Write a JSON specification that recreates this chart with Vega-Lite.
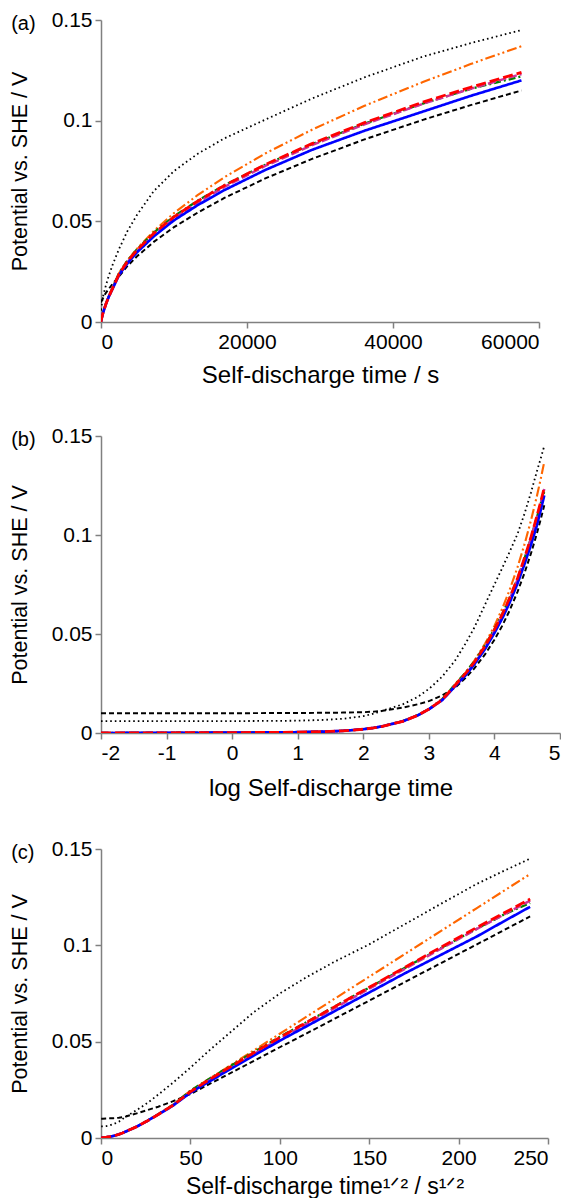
{
  "$schema": "https://vega.github.io/schema/vega-lite/v6.json",
  "background": "white",
  "padding": {"left": 9, "top": 9, "right": 0, "bottom": 0},
  "spacing": 38,
  "config": {
    "font": "Liberation Sans",
    "view": {"stroke": null},
    "axis": {
      "grid": false,
      "domainColor": "#808080",
      "domainWidth": 1.5,
      "tickColor": "#808080",
      "tickWidth": 1.5,
      "tickSize": 6,
      "labelFont": "Liberation Sans",
      "labelFontSize": 21,
      "labelColor": "#000000",
      "labelPadding": 3,
      "titleFont": "Liberation Sans",
      "titleFontSize": 24,
      "titleFontWeight": "normal",
      "titleColor": "#000000"
    },
    "axisY": {"titleFontSize": 21.5, "titlePadding": 20},
    "title": {"font": "Liberation Sans", "fontSize": 20, "fontWeight": "normal", "color": "#000000", "anchor": "start", "frame": "bounds", "baseline": "top", "offset": 0, "dy": 29, "dx": 2}
  },
  "datasets": {
    "d": [
      {"series": "dotted", "t": 0.01, "V": 0.006},
      {"series": "dotted", "t": 0.1, "V": 0.006},
      {"series": "dotted", "t": 1, "V": 0.006},
      {"series": "dotted", "t": 9, "V": 0.0062},
      {"series": "dotted", "t": 25, "V": 0.0066},
      {"series": "dotted", "t": 49, "V": 0.0072},
      {"series": "dotted", "t": 100, "V": 0.0085},
      {"series": "dotted", "t": 144, "V": 0.0098},
      {"series": "dotted", "t": 196, "V": 0.0112},
      {"series": "dotted", "t": 400, "V": 0.0145},
      {"series": "dotted", "t": 676, "V": 0.0182},
      {"series": "dotted", "t": 1024, "V": 0.0225},
      {"series": "dotted", "t": 1600, "V": 0.0285},
      {"series": "dotted", "t": 2500, "V": 0.0365},
      {"series": "dotted", "t": 3600, "V": 0.045},
      {"series": "dotted", "t": 4900, "V": 0.053},
      {"series": "dotted", "t": 7225, "V": 0.065},
      {"series": "dotted", "t": 10000, "V": 0.075},
      {"series": "dotted", "t": 13225, "V": 0.0835},
      {"series": "dotted", "t": 16900, "V": 0.0912},
      {"series": "dotted", "t": 22500, "V": 0.1005},
      {"series": "dotted", "t": 28900, "V": 0.111},
      {"series": "dotted", "t": 36100, "V": 0.1215},
      {"series": "dotted", "t": 44100, "V": 0.1318},
      {"series": "dotted", "t": 50625, "V": 0.1385},
      {"series": "dotted", "t": 57600, "V": 0.145},

      {"series": "dashed", "t": 0.01, "V": 0.01},
      {"series": "dashed", "t": 0.1, "V": 0.01},
      {"series": "dashed", "t": 1, "V": 0.01},
      {"series": "dashed", "t": 9, "V": 0.0101},
      {"series": "dashed", "t": 25, "V": 0.0102},
      {"series": "dashed", "t": 49, "V": 0.0103},
      {"series": "dashed", "t": 100, "V": 0.0105},
      {"series": "dashed", "t": 144, "V": 0.0108},
      {"series": "dashed", "t": 196, "V": 0.0112},
      {"series": "dashed", "t": 400, "V": 0.0128},
      {"series": "dashed", "t": 676, "V": 0.0145},
      {"series": "dashed", "t": 1024, "V": 0.0162},
      {"series": "dashed", "t": 1600, "V": 0.019},
      {"series": "dashed", "t": 2500, "V": 0.0228},
      {"series": "dashed", "t": 3600, "V": 0.0277},
      {"series": "dashed", "t": 4900, "V": 0.0325},
      {"series": "dashed", "t": 7225, "V": 0.0398},
      {"series": "dashed", "t": 10000, "V": 0.0471},
      {"series": "dashed", "t": 13225, "V": 0.0543},
      {"series": "dashed", "t": 16900, "V": 0.0616},
      {"series": "dashed", "t": 22500, "V": 0.0713},
      {"series": "dashed", "t": 28900, "V": 0.081},
      {"series": "dashed", "t": 36100, "V": 0.0907},
      {"series": "dashed", "t": 44100, "V": 0.1004},
      {"series": "dashed", "t": 50625, "V": 0.1077},
      {"series": "dashed", "t": 57600, "V": 0.115},

      {"series": "orange", "t": 0.01, "V": 0.0},
      {"series": "orange", "t": 0.1, "V": 0.0001},
      {"series": "orange", "t": 1, "V": 0.0002},
      {"series": "orange", "t": 9, "V": 0.0004},
      {"series": "orange", "t": 25, "V": 0.0007},
      {"series": "orange", "t": 49, "V": 0.0011},
      {"series": "orange", "t": 100, "V": 0.0019},
      {"series": "orange", "t": 144, "V": 0.0026},
      {"series": "orange", "t": 196, "V": 0.0034},
      {"series": "orange", "t": 400, "V": 0.006},
      {"series": "orange", "t": 676, "V": 0.009},
      {"series": "orange", "t": 1024, "V": 0.0124},
      {"series": "orange", "t": 1600, "V": 0.0172},
      {"series": "orange", "t": 2500, "V": 0.0245},
      {"series": "orange", "t": 3600, "V": 0.0304},
      {"series": "orange", "t": 4900, "V": 0.0363},
      {"series": "orange", "t": 7225, "V": 0.0452},
      {"series": "orange", "t": 10000, "V": 0.0541},
      {"series": "orange", "t": 13225, "V": 0.063},
      {"series": "orange", "t": 16900, "V": 0.0719},
      {"series": "orange", "t": 22500, "V": 0.0837},
      {"series": "orange", "t": 28900, "V": 0.0955},
      {"series": "orange", "t": 36100, "V": 0.1074},
      {"series": "orange", "t": 44100, "V": 0.1192},
      {"series": "orange", "t": 50625, "V": 0.1281},
      {"series": "orange", "t": 57600, "V": 0.137},

      {"series": "green", "t": 0.01, "V": 0.0},
      {"series": "green", "t": 0.1, "V": 0.0001},
      {"series": "green", "t": 1, "V": 0.0002},
      {"series": "green", "t": 9, "V": 0.0004},
      {"series": "green", "t": 25, "V": 0.0007},
      {"series": "green", "t": 49, "V": 0.0011},
      {"series": "green", "t": 100, "V": 0.0019},
      {"series": "green", "t": 144, "V": 0.0026},
      {"series": "green", "t": 196, "V": 0.0034},
      {"series": "green", "t": 400, "V": 0.006},
      {"series": "green", "t": 676, "V": 0.009},
      {"series": "green", "t": 1024, "V": 0.0123},
      {"series": "green", "t": 1600, "V": 0.017},
      {"series": "green", "t": 2500, "V": 0.0245},
      {"series": "green", "t": 3600, "V": 0.0304},
      {"series": "green", "t": 4900, "V": 0.036},
      {"series": "green", "t": 7225, "V": 0.0444},
      {"series": "green", "t": 10000, "V": 0.0525},
      {"series": "green", "t": 13225, "V": 0.0602},
      {"series": "green", "t": 16900, "V": 0.0679},
      {"series": "green", "t": 22500, "V": 0.0781},
      {"series": "green", "t": 28900, "V": 0.0883},
      {"series": "green", "t": 36100, "V": 0.0985},
      {"series": "green", "t": 44100, "V": 0.1085},
      {"series": "green", "t": 50625, "V": 0.1158},
      {"series": "green", "t": 57600, "V": 0.122},

      {"series": "magenta", "t": 0.01, "V": 0.0},
      {"series": "magenta", "t": 0.1, "V": 0.0001},
      {"series": "magenta", "t": 1, "V": 0.0002},
      {"series": "magenta", "t": 9, "V": 0.0004},
      {"series": "magenta", "t": 25, "V": 0.0007},
      {"series": "magenta", "t": 49, "V": 0.0011},
      {"series": "magenta", "t": 100, "V": 0.0019},
      {"series": "magenta", "t": 144, "V": 0.0026},
      {"series": "magenta", "t": 196, "V": 0.0034},
      {"series": "magenta", "t": 400, "V": 0.0059},
      {"series": "magenta", "t": 676, "V": 0.0089},
      {"series": "magenta", "t": 1024, "V": 0.0122},
      {"series": "magenta", "t": 1600, "V": 0.0168},
      {"series": "magenta", "t": 2500, "V": 0.0238},
      {"series": "magenta", "t": 3600, "V": 0.0296},
      {"series": "magenta", "t": 4900, "V": 0.035},
      {"series": "magenta", "t": 7225, "V": 0.0433},
      {"series": "magenta", "t": 10000, "V": 0.0515},
      {"series": "magenta", "t": 13225, "V": 0.0593},
      {"series": "magenta", "t": 16900, "V": 0.0671},
      {"series": "magenta", "t": 22500, "V": 0.0775},
      {"series": "magenta", "t": 28900, "V": 0.0878},
      {"series": "magenta", "t": 36100, "V": 0.0982},
      {"series": "magenta", "t": 44100, "V": 0.1084},
      {"series": "magenta", "t": 50625, "V": 0.1158},
      {"series": "magenta", "t": 57600, "V": 0.1232},

      {"series": "blue", "t": 0.01, "V": 0.0},
      {"series": "blue", "t": 0.1, "V": 0.0001},
      {"series": "blue", "t": 1, "V": 0.0002},
      {"series": "blue", "t": 9, "V": 0.0004},
      {"series": "blue", "t": 25, "V": 0.0007},
      {"series": "blue", "t": 49, "V": 0.0011},
      {"series": "blue", "t": 100, "V": 0.0019},
      {"series": "blue", "t": 144, "V": 0.0026},
      {"series": "blue", "t": 196, "V": 0.0034},
      {"series": "blue", "t": 400, "V": 0.0059},
      {"series": "blue", "t": 676, "V": 0.0089},
      {"series": "blue", "t": 1024, "V": 0.0122},
      {"series": "blue", "t": 1600, "V": 0.0166},
      {"series": "blue", "t": 2500, "V": 0.0235},
      {"series": "blue", "t": 3600, "V": 0.029},
      {"series": "blue", "t": 4900, "V": 0.0345},
      {"series": "blue", "t": 7225, "V": 0.0425},
      {"series": "blue", "t": 10000, "V": 0.0505},
      {"series": "blue", "t": 13225, "V": 0.058},
      {"series": "blue", "t": 16900, "V": 0.0655},
      {"series": "blue", "t": 22500, "V": 0.0755},
      {"series": "blue", "t": 28900, "V": 0.0855},
      {"series": "blue", "t": 36100, "V": 0.095},
      {"series": "blue", "t": 44100, "V": 0.1045},
      {"series": "blue", "t": 50625, "V": 0.1123},
      {"series": "blue", "t": 57600, "V": 0.12},

      {"series": "red", "t": 0.01, "V": 0.0},
      {"series": "red", "t": 0.1, "V": 0.0001},
      {"series": "red", "t": 1, "V": 0.0002},
      {"series": "red", "t": 9, "V": 0.0004},
      {"series": "red", "t": 25, "V": 0.0007},
      {"series": "red", "t": 49, "V": 0.0011},
      {"series": "red", "t": 100, "V": 0.0019},
      {"series": "red", "t": 144, "V": 0.0026},
      {"series": "red", "t": 196, "V": 0.0034},
      {"series": "red", "t": 400, "V": 0.0059},
      {"series": "red", "t": 676, "V": 0.0089},
      {"series": "red", "t": 1024, "V": 0.0122},
      {"series": "red", "t": 1600, "V": 0.0168},
      {"series": "red", "t": 2500, "V": 0.024},
      {"series": "red", "t": 3600, "V": 0.03},
      {"series": "red", "t": 4900, "V": 0.0356},
      {"series": "red", "t": 7225, "V": 0.044},
      {"series": "red", "t": 10000, "V": 0.0522},
      {"series": "red", "t": 13225, "V": 0.06},
      {"series": "red", "t": 16900, "V": 0.0678},
      {"series": "red", "t": 22500, "V": 0.0782},
      {"series": "red", "t": 28900, "V": 0.0886},
      {"series": "red", "t": 36100, "V": 0.099},
      {"series": "red", "t": 44100, "V": 0.1092},
      {"series": "red", "t": 50625, "V": 0.1166},
      {"series": "red", "t": 57600, "V": 0.124}
    ]
  },
  "vconcat": [
    {
      "width": 438,
      "height": 302,
      "data": {"name": "d"},
      "title": {"text": "(a)"},
      "mark": {"type": "line", "clip": true, "strokeCap": "butt"},
      "encoding": {
        "x": {"field": "t", "type": "quantitative", "scale": {"domain": [0, 60000], "nice": false, "zero": false}, "axis": {"title": "Self-discharge time / s", "values": [0, 20000, 40000, 60000], "format": "d", "titlePadding": 11}},
        "y": {"field": "V", "type": "quantitative", "scale": {"domain": [0, 0.15], "nice": false}, "axis": {"title": "Potential vs. SHE / V", "values": [0, 0.05, 0.1, 0.15], "labelExpr": "'' + datum.value"}},
        "color": {"field": "series", "type": "nominal", "legend": null, "scale": {"domain": ["dotted", "dashed", "orange", "green", "magenta", "blue", "red"], "range": ["#000000", "#000000", "#FF6600", "#008000", "#CC3399", "#0000FF", "#FF0000"]}},
        "strokeDash": {"field": "series", "type": "nominal", "legend": null, "scale": {"domain": ["dotted", "dashed", "orange", "green", "magenta", "blue", "red"], "range": [[1.6, 3], [5, 3], [10, 3, 2, 3, 2, 3], [7, 3, 2, 3], [8, 3], [1, 0], [10, 4]]}},
        "strokeWidth": {"field": "series", "type": "nominal", "legend": null, "scale": {"domain": ["dotted", "dashed", "orange", "green", "magenta", "blue", "red"], "range": [1.8, 2.8, 2.5, 2.5, 2.8, 2.4, 3]}},
        "order": {"field": "t", "type": "quantitative"}
      }
    },
    {
      "width": 459,
      "height": 297,
      "data": {"name": "d"},
      "title": {"text": "(b)"},
      "mark": {"type": "line", "clip": true, "strokeCap": "butt"},
      "encoding": {
        "x": {"field": "t", "type": "quantitative", "scale": {"type": "log", "domain": [0.01, 100000], "nice": false}, "axis": {"title": "log Self-discharge time", "values": [0.01, 0.1, 1, 10, 100, 1000, 10000, 100000], "labelExpr": "round(log(datum.value) / LN10)", "titlePadding": 13}},
        "y": {"field": "V", "type": "quantitative", "scale": {"domain": [0, 0.15], "nice": false}, "axis": {"title": "Potential vs. SHE / V", "values": [0, 0.05, 0.1, 0.15], "labelExpr": "'' + datum.value"}},
        "color": {"field": "series", "type": "nominal", "legend": null, "scale": {"domain": ["dotted", "dashed", "orange", "green", "magenta", "blue", "red"], "range": ["#000000", "#000000", "#FF6600", "#008000", "#CC3399", "#0000FF", "#FF0000"]}},
        "strokeDash": {"field": "series", "type": "nominal", "legend": null, "scale": {"domain": ["dotted", "dashed", "orange", "green", "magenta", "blue", "red"], "range": [[1.6, 3], [5, 3], [10, 3, 2, 3, 2, 3], [7, 3, 2, 3], [8, 3], [1, 0], [10, 4]]}},
        "strokeWidth": {"field": "series", "type": "nominal", "legend": null, "scale": {"domain": ["dotted", "dashed", "orange", "green", "magenta", "blue", "red"], "range": [1.8, 2.8, 2.5, 2.5, 2.8, 2.4, 3]}},
        "order": {"field": "t", "type": "quantitative"}
      }
    },
    {
      "width": 447,
      "height": 289,
      "data": {"name": "d"},
      "title": {"text": "(c)"},
      "mark": {"type": "line", "clip": true, "strokeCap": "butt"},
      "encoding": {
        "x": {"field": "t", "type": "quantitative", "scale": {"type": "sqrt", "domain": [0, 62500], "nice": false, "zero": false}, "axis": {"title": "Self-discharge time¹ᐟ² / s¹ᐟ²", "titleFontSize": 23, "values": [0, 2500, 10000, 22500, 40000, 62500], "labelExpr": "round(sqrt(datum.value))", "titlePadding": 7}},
        "y": {"field": "V", "type": "quantitative", "scale": {"domain": [0, 0.15], "nice": false}, "axis": {"title": "Potential vs. SHE / V", "values": [0, 0.05, 0.1, 0.15], "labelExpr": "'' + datum.value"}},
        "color": {"field": "series", "type": "nominal", "legend": null, "scale": {"domain": ["dotted", "dashed", "orange", "green", "magenta", "blue", "red"], "range": ["#000000", "#000000", "#FF6600", "#008000", "#CC3399", "#0000FF", "#FF0000"]}},
        "strokeDash": {"field": "series", "type": "nominal", "legend": null, "scale": {"domain": ["dotted", "dashed", "orange", "green", "magenta", "blue", "red"], "range": [[1.6, 3], [5, 3], [10, 3, 2, 3, 2, 3], [7, 3, 2, 3], [8, 3], [1, 0], [10, 4]]}},
        "strokeWidth": {"field": "series", "type": "nominal", "legend": null, "scale": {"domain": ["dotted", "dashed", "orange", "green", "magenta", "blue", "red"], "range": [1.8, 2.8, 2.5, 2.5, 2.8, 2.4, 3]}},
        "order": {"field": "t", "type": "quantitative"}
      }
    }
  ]
}
